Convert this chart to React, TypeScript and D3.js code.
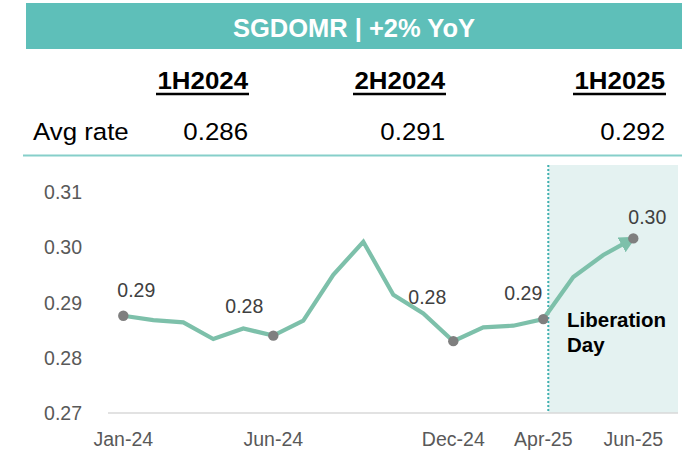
import React from "react";
import * as d3 from "d3";

const categories = [
  "Jan-24", "Feb-24", "Mar-24", "Apr-24", "May-24", "Jun-24",
  "Jul-24", "Aug-24", "Sep-24", "Oct-24", "Nov-24", "Dec-24",
  "Jan-25", "Feb-25", "Mar-25", "Apr-25", "May-25", "Jun-25",
];
const rates = [
  0.2876, 0.2868, 0.2864, 0.2834, 0.2853, 0.284,
  0.2867, 0.295, 0.301, 0.2914, 0.288, 0.283,
  0.2855, 0.2858, 0.287, 0.2946, 0.2986, 0.3016,
];
const tickLabels = ["Jan-24", "Jun-24", "Dec-24", "Apr-25", "Jun-25"];
const tickIndex = [0, 5, 11, 14, 17];
const labeledIndex = [0, 5, 11, 14, 17];
const yTicks = [0.27, 0.28, 0.29, 0.3, 0.31];
const periods = ["1H2024", "2H2024", "1H2025"];
const avgRates = ["0.286", "0.291", "0.292"];
const title = "SGDOMR | +2% YoY";
const shadeStartIndex = 14;

const W = 688;
const H = 450;
const FONT = "'Liberation Sans', Arial, sans-serif";
const TEAL = "#5ebfb9";
const LINE = "#7dc0aa";

export default function App() {
  const x = d3.scalePoint<string>().domain(categories).range([123.3, 633.3]);
  const y = d3.scaleLinear().domain([0.27, 0.31]).range([413, 192]);
  const plotLeft = 108;
  const plotRight = 678;
  const plotTop = 165;

  const pts = rates.map((v, i) => [x(categories[i]) as number, y(v)] as [number, number]);
  const line = d3.line<[number, number]>().x((d) => d[0]).y((d) => d[1]);
  const fmt = d3.format(".2f");
  const labelOffsets = [
    [13, -19],
    [-29, -23],
    [-26, -37],
    [-20, -19],
    [14, -14],
  ];
  const periodRight = [248, 445, 665];
  const periodWidth = 92;
  const shadeX = (x(categories[shadeStartIndex]) as number) + 5;
  const sx = 1.1;
  const fs = 23.5;

  return (
    <svg
      width={W}
      height={H}
      style={{ position: "absolute", left: 0, top: 0, fontFamily: FONT }}
    >
      <defs>
        <marker
          id="arrow"
          viewBox="0 0 10 10"
          refX="8"
          refY="5"
          markerWidth="4"
          markerHeight="4"
          orient="auto"
          markerUnits="strokeWidth"
        >
          <path d="M0,0 L10,5 L0,10 Z" fill={LINE} />
        </marker>
      </defs>
      <rect x={0} y={0} width={W} height={H} fill="#fff" />
      {/* header */}
      <rect x={26} y={3} width={656} height={46} fill={TEAL} />
      <text
        x={354}
        y={37}
        textAnchor="middle"
        fill="#fff"
        fontWeight="bold"
        fontSize={25.5}
      >
        {title}
      </text>
      {/* table */}
      {periods.map((p, i) => (
        <g key={p}>
          <g transform={`translate(${periodRight[i]},88.5) scale(${sx},1)`}>
            <text x={0} y={0} textAnchor="end" fontWeight="bold" fontSize={fs} fill="#000">
              {p}
            </text>
          </g>
          <line
            x1={periodRight[i] - periodWidth}
            x2={periodRight[i] + 1}
            y1={94}
            y2={94}
            stroke="#000"
            strokeWidth={2.4}
          />
        </g>
      ))}
      <g transform={`translate(33,139.5) scale(${sx},1)`}>
        <text x={0} y={0} fontSize={fs} fill="#000">Avg rate</text>
      </g>
      {avgRates.map((v, i) => (
        <g key={i} transform={`translate(${periodRight[i]},139.5) scale(${sx},1)`}>
          <text x={0} y={0} textAnchor="end" fontSize={fs} fill="#000">{v}</text>
        </g>
      ))}
      <line x1={23} x2={682} y1={155.5} y2={155.5} stroke="#86cfca" strokeWidth={2.2} />
      {/* shaded region */}
      <rect x={shadeX} y={plotTop} width={plotRight - shadeX} height={y(0.27) - plotTop} fill="#e4f2f1" />
      <line
        x1={shadeX}
        x2={shadeX}
        y1={plotTop}
        y2={y(0.27)}
        stroke="#3fb0b0"
        strokeWidth={2}
        strokeDasharray="2,2"
      />
      {/* axis */}
      <line x1={plotLeft} x2={plotRight} y1={y(0.27)} y2={y(0.27)} stroke="#d9d9d9" strokeWidth={1.5} />
      {yTicks.map((t) => (
        <text key={t} x={82} y={y(t)} dy="0.36em" textAnchor="end" fontSize={19.5} fill="#595959">
          {fmt(t)}
        </text>
      ))}
      {tickIndex.map((idx, i) => (
        <text
          key={i}
          x={x(categories[idx]) as number}
          y={446}
          textAnchor="middle"
          fontSize={19.5}
          fill="#595959"
        >
          {tickLabels[i]}
        </text>
      ))}
      {/* series */}
      <path
        d={line(pts) as string}
        fill="none"
        stroke={LINE}
        strokeWidth={4.2}
        strokeLinejoin="miter"
        markerEnd="url(#arrow)"
      />
      {labeledIndex.map((idx) => (
        <circle key={idx} cx={pts[idx][0]} cy={pts[idx][1]} r={5.2} fill="#7f7f7f" />
      ))}
      {labeledIndex.map((idx, i) => (
        <text
          key={`l${idx}`}
          x={pts[idx][0] + labelOffsets[i][0]}
          y={pts[idx][1] + labelOffsets[i][1]}
          textAnchor="middle"
          fontSize={19.5}
          fill="#404040"
        >
          {fmt(rates[idx])}
        </text>
      ))}
      <text x={567} y={327} fontWeight="bold" fontSize={20.5} fill="#000">Liberation</text>
      <text x={567} y={352} fontWeight="bold" fontSize={20.5} fill="#000">Day</text>
    </svg>
  );
}
